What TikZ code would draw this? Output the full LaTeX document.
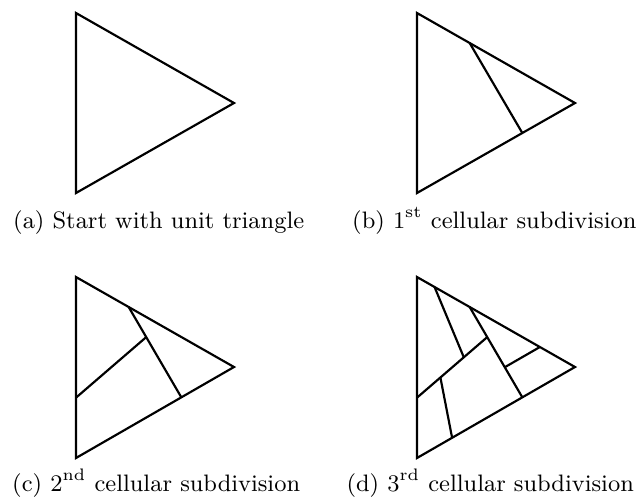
\documentclass[tikz,border=0pt]{standalone}
\usepackage{tikz}
\usetikzlibrary{calc}

\begin{document}
\begin{tikzpicture}[
    x=0.013cm, y=-0.013cm,
    edge/.style={thick, line join=miter},
    caption/.style={anchor=base west, inner sep=0pt, font=\fontsize{8.8}{10.5}\selectfont},
]
\useasboundingbox (0,0) rectangle (644,498);

% --- (a) unit triangle ---
\coordinate (aT) at (76,13);
\coordinate (aB) at (76,193);
\coordinate (aR) at (234,103);
\draw[edge] (aT) -- (aB) -- (aR) -- cycle;
\node[caption] (capa) at (12.7,228) {(a) Start with unit triangle};

% --- (b) first subdivision ---
\coordinate (bT) at (417,13);
\coordinate (bB) at (417,193);
\coordinate (bR) at (575,103);
\draw[edge] (bT) -- (bB) -- (bR) -- cycle;
\coordinate (bP) at ($(bT)!1/3!(bR)$);
\coordinate (bQ) at ($(bB)!2/3!(bR)$);
\draw[edge] (bP) -- (bQ);
\node[caption] (capb) at (351.7,228) {(b) 1\textsuperscript{st} cellular subdivision};

% --- (c) second subdivision ---
\coordinate (cT) at (76,277);
\coordinate (cB) at (76,458);
\coordinate (cR) at (234,367);
\draw[edge] (cT) -- (cB) -- (cR) -- cycle;
\coordinate (cP) at ($(cT)!1/3!(cR)$);
\coordinate (cQ) at ($(cB)!2/3!(cR)$);
\coordinate (cM) at ($(cP)!1/3!(cQ)$);
\coordinate (cL) at ($(cT)!2/3!(cB)$);
\draw[edge] (cP) -- (cQ);
\draw[edge] (cM) -- (cL);
\node[caption] (capc) at (11.7,491) {(c) 2\textsuperscript{nd} cellular subdivision};

% --- (d) third subdivision ---
\coordinate (dT) at (417,277);
\coordinate (dB) at (417,458);
\coordinate (dR) at (575,367);
\draw[edge] (dT) -- (dB) -- (dR) -- cycle;
\coordinate (dP) at ($(dT)!1/3!(dR)$);
\coordinate (dQ) at ($(dB)!2/3!(dR)$);
\coordinate (dM) at ($(dP)!1/3!(dQ)$);
\coordinate (dL) at ($(dT)!2/3!(dB)$);
\draw[edge] (dP) -- (dQ);
\draw[edge] (dM) -- (dL);
\coordinate (dU1) at ($(dT)!1/9!(dR)$);
\coordinate (dU2) at ($(dL)!2/3!(dM)$);
\draw[edge] (dU1) -- (dU2);
\coordinate (dV1) at ($(dL)!1/3!(dM)$);
\coordinate (dV2) at ($(dB)!2/9!(dR)$);
\draw[edge] (dV1) -- (dV2);
\coordinate (dW1) at ($(dP)!2/3!(dQ)$);
\coordinate (dW2) at ($(dT)!7/9!(dR)$);
\draw[edge] (dW1) -- (dW2);
\node[caption] (capd) at (346,491) {(d) 3\textsuperscript{rd} cellular subdivision};

\end{tikzpicture}
\end{document}
